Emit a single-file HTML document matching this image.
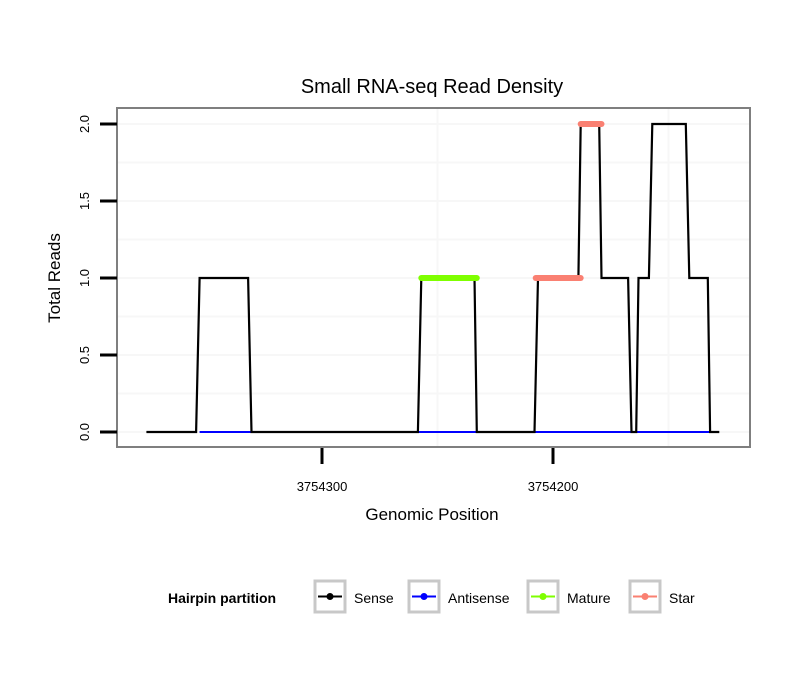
<!DOCTYPE html>
<html><head><meta charset="utf-8"><style>
body{margin:0;background:#fff;}
svg text{font-family:"Liberation Sans",Arial,sans-serif;}
</style></head><body>
<svg id="chart" width="810" height="690" viewBox="0 0 810 690" xmlns="http://www.w3.org/2000/svg">
<rect width="810" height="690" fill="#fff"/>
<text x="432" y="93" font-size="20" text-anchor="middle">Small RNA-seq Read Density</text>
<g id="grid"></g>
<g id="series"></g>
<rect x="117" y="108" width="633" height="339" fill="none" stroke="#7f7f7f" stroke-width="2"/>
<g id="axes"></g>
<text x="432" y="520" font-size="17" text-anchor="middle">Genomic Position</text>
<text transform="translate(60,278) rotate(-90)" font-size="17" text-anchor="middle">Total Reads</text>
<g>
<text x="168" y="603" font-size="14" font-weight="bold">Hairpin partition</text>
<g id="legend"></g>
</g>
</svg>
<script>
const sensePos=[3754376,3754354.5,3754353,3754332,3754330.5,3754258.5,3754257,3754234,3754233,3754208,3754206.5,3754189,3754188,3754180,3754179,3754167.5,3754166,3754164,3754163,3754158.5,3754157,3754142.5,3754141,3754133,3754132,3754128];
const senseVal=[0,0,1,1,0,0,1,1,0,0,1,1,2,2,1,1,0,0,1,1,2,2,1,1,0,0];
const antisensePos=[3754353,3754132];
const antisenseVal=[0,0];
const maturePos=[3754257,3754233];
const matureVal=[1,1];
const starPos=[3754207.5,3754188,3754188,3754179];
const starVal=[1,1,2,2];
const xTicks=[3754300,3754200];
const xGrid=[3754250,3754150];
const yTicks=[0,0.5,1,1.5,2];
const yMinor=[0.25,0.75,1.25,1.75];
const legendLabels=["Sense","Antisense","Mature","Star"];
const legendColors=["#000","#0000ff","#7fff00","#fa8072"];

const NS="http://www.w3.org/2000/svg";
const xs=p=>322+(3754300-p)*2.31;
const ys=v=>432-v*154;
function mk(tag,attrs,parent){const e=document.createElementNS(NS,tag);for(const k in attrs)e.setAttribute(k,attrs[k]);parent.appendChild(e);return e;}
const grid=document.getElementById('grid'),series=document.getElementById('series'),axes=document.getElementById('axes'),legend=document.getElementById('legend');
yMinor.forEach(v=>{const l=mk('line',{x1:117,x2:750,y1:ys(v),y2:ys(v),stroke:'#f7f7f7','stroke-width':2},grid);

});
yTicks.forEach(v=>{const l=mk('line',{x1:117,x2:750,y1:ys(v),y2:ys(v),stroke:'#f7f7f7','stroke-width':2},grid);

});
xGrid.forEach(p=>{const l=mk('line',{x1:xs(p),x2:xs(p),y1:108,y2:447,stroke:'#f7f7f7','stroke-width':2},grid);

});
function path(P,V){return P.map((p,i)=>(i?'L':'M')+xs(p).toFixed(1)+','+ys(V[i]).toFixed(1)).join(' ');}
const a=mk('path',{d:path(antisensePos,antisenseVal),stroke:'#0000ff','stroke-width':2,fill:'none'},series);


const s=mk('path',{d:path(sensePos,senseVal),stroke:'#000','stroke-width':2.2,fill:'none','stroke-linejoin':'miter'},series);


const m=mk('path',{d:path(maturePos,matureVal),stroke:'#7fff00','stroke-width':6,fill:'none','stroke-linecap':'round'},series);


for(let i=0;i<starPos.length;i+=2){const st=mk('path',{d:path(starPos.slice(i,i+2),starVal.slice(i,i+2)),stroke:'#fa8072','stroke-width':6,fill:'none','stroke-linecap':'round'},series);

}
yTicks.forEach(v=>{const t=mk('line',{x1:100,x2:117,y1:ys(v),y2:ys(v),stroke:'#000','stroke-width':3},axes);


const tx=mk('text',{transform:`translate(89,${ys(v)}) rotate(-90)`,'font-size':13,'text-anchor':'middle'},axes);tx.textContent=v.toFixed(1);

});
xTicks.forEach(p=>{const t=mk('line',{x1:xs(p),x2:xs(p),y1:448,y2:464,stroke:'#000','stroke-width':3},axes);


const tx=mk('text',{x:xs(p),y:491,'font-size':13,'text-anchor':'middle'},axes);tx.textContent=p;

});
const lx=[315,409,528,630];
legendLabels.forEach((lab,i)=>{const x=lx[i];
const b=mk('rect',{x:x,y:581,width:30,height:31,fill:'#fff',stroke:'#c8c8c8','stroke-width':3},legend);


mk('line',{x1:x+3,x2:x+27,y1:596.5,y2:596.5,stroke:legendColors[i],'stroke-width':2},legend);
mk('circle',{cx:x+15,cy:596.5,r:3.5,fill:legendColors[i]},legend);
const t=mk('text',{x:x+39,y:603,'font-size':14},legend);t.textContent=lab;

});
</script>
</body></html>
